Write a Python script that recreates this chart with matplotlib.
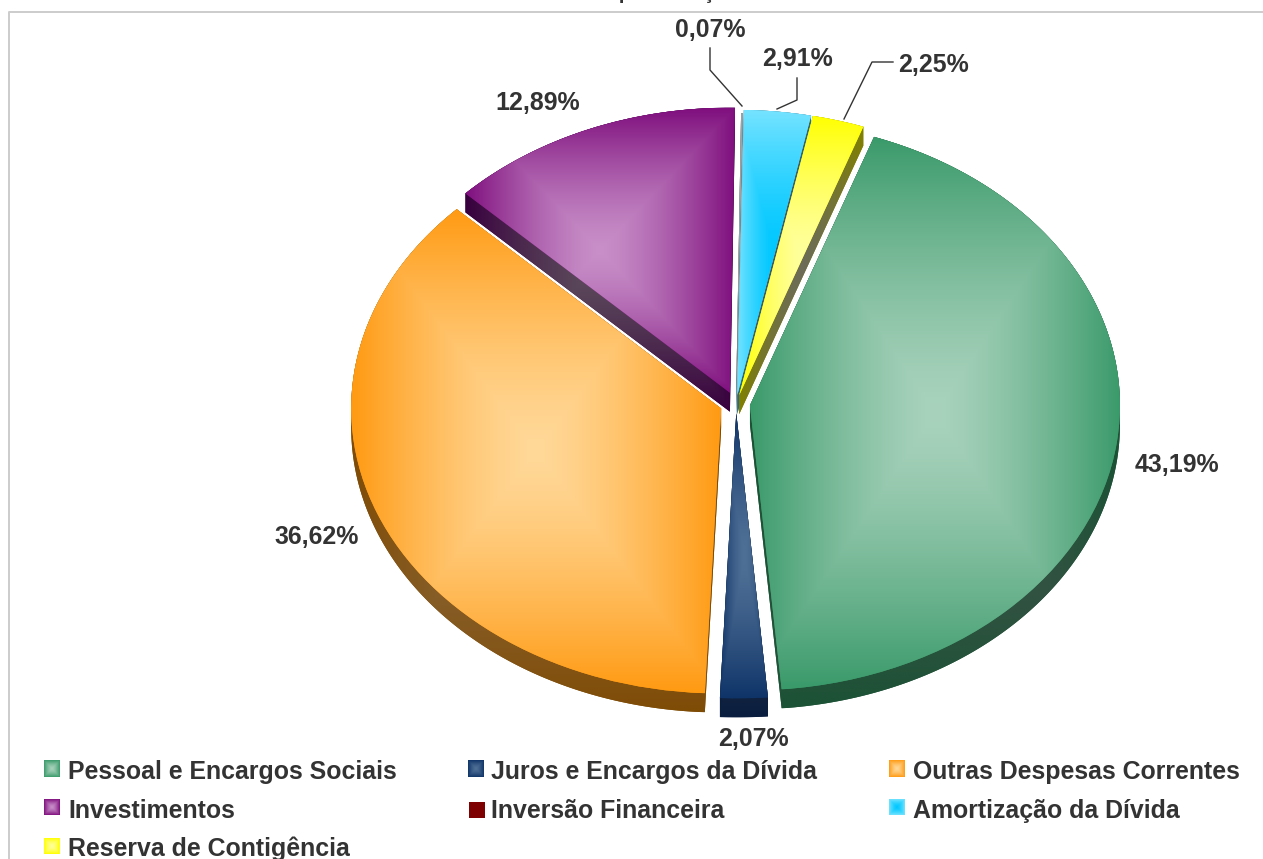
import numpy as np
import matplotlib
matplotlib.use('Agg')
import matplotlib.pyplot as plt
from matplotlib.colors import to_rgb
from matplotlib.patches import Polygon

plt.rcParams['font.family'] = ['Liberation Sans', 'DejaVu Sans']

categories = ['Pessoal e Encargos Sociais', 'Juros e Encargos da Dívida', 'Outras Despesas Correntes',
              'Investimentos', 'Inversão Financeira', 'Amortização da Dívida', 'Reserva de Contigência']
values = [43.19, 2.07, 36.62, 12.89, 0.07, 2.91, 2.25]

# cores: borda e centro do degrade de cada fatia
edge_colors = ['#3A9A6A', '#0F3468', '#FF9A12', '#7F0F7E', '#9AA4A8', '#75E3FF', '#FFFF00']
center_colors = ['#A8D2BC', '#4F7096', '#FFD898', '#C88FC8', '#9AA4A8', '#00C8FF', '#FFFF9C']
side_edge = ['#1C5236', '#0A1E40', '#7F4C06', '#38003E', '#5A6468', '#2A6A80', '#808000']
side_center = ['#46524C', '#2C3438', '#8C6A40', '#5C4C5C', '#5A6468', '#3C5A66', '#6C6C58']
legend_edge = ['#3A9A6A', '#0F3468', '#FF9A12', '#7F0F7E', '#7F0000', '#75E3FF', '#FFFF00']
legend_center = ['#A8D2BC', '#4F7096', '#FFD898', '#C88FC8', '#7F0000', '#00C8FF', '#FFFF9C']

W, H = 1263, 859
# centro e raios da elipse em pixels
cx, cy, rx, ry = 736, 404, 370, 285
depth = 19 / ry
explode = [0.038, 0.033, 0.043, 0.043, 0.02, 0.032, 0.032]
draw_order = [3, 4, 5, 6, 0, 2, 1]


def px(x, y):
    return (x - cx) / rx, (cy - y) / ry


def gradient(ax, box, edge, center, zorder, clip=None):
    # degrade retangular: claro no centro do retangulo, cor cheia nas bordas
    u, v = np.meshgrid(np.linspace(-1, 1, 240), np.linspace(-1, 1, 240))
    t = np.maximum(np.abs(u), np.abs(v))[..., None] ** 1.4
    img = np.array(to_rgb(center)) * (1 - t) + np.array(to_rgb(edge)) * t
    im = ax.imshow(img, extent=box, origin='lower', aspect='auto', interpolation='bilinear', zorder=zorder)
    if clip is not None:
        im.set_clip_path(clip)
    return im


def convex_hull(points):
    pts = sorted(map(tuple, points))
    def half(seq):
        out = []
        for p in seq:
            while len(out) > 1 and ((out[-1][0] - out[-2][0]) * (p[1] - out[-2][1])
                                    - (out[-1][1] - out[-2][1]) * (p[0] - out[-2][0])) <= 0:
                out.pop()
            out.append(p)
        return out[:-1]
    return half(pts) + half(pts[::-1])


fig = plt.figure(figsize=(W / 100, H / 100), dpi=100)
ax = fig.add_axes([0, 0, 1, 1])
wedges, _ = ax.pie(values, explode=explode, startangle=70.4, counterclock=False, radius=1)

for n, i in enumerate(draw_order):
    w = wedges[i]
    z = 2 + n * 4
    ang = np.radians(np.linspace(w.theta1, w.theta2, 160))
    ox, oy = w.center
    pts = np.column_stack([ox + w.r * np.cos(ang), oy + w.r * np.sin(ang)])
    pts = np.vstack([pts, [ox, oy]])
    low = pts - [0, depth]

    # lateral da fatia
    hull = np.array(convex_hull(np.vstack([pts, low])))
    side = Polygon(hull, closed=True, fc=side_edge[i], ec='none', zorder=z)
    ax.add_patch(side)
    gradient(ax, (hull[:, 0].min(), hull[:, 0].max(), hull[:, 1].min(), hull[:, 1].max()),
             side_edge[i], side_center[i], z + 1, clip=side)

    # topo da fatia
    w.set(facecolor=edge_colors[i], edgecolor='none', zorder=z + 2)
    gradient(ax, (pts[:, 0].min(), pts[:, 0].max(), pts[:, 1].min(), pts[:, 1].max()),
             edge_colors[i], center_colors[i], z + 3, clip=w)

ax.set_aspect('auto')
ax.set_axis_off()

text_color = '#333333'
label_size = 17.9
legend_size = 17.9

# moldura do grafico
ax.plot(*zip(px(9, H), px(9, 12), px(W, 12)), color='#CCCCCC', lw=1.4, zorder=1, clip_on=False)

# titulo cortado pela borda superior
tx, ty = px(666, -1)
ax.text(tx, ty, 'Representação', fontsize=14.6, fontweight='bold', color=text_color,
        ha='center', va='baseline', clip_on=True, zorder=60)

# rotulos de valor
label_pos = [(1177, 465), (753, 739), (317, 537), (538, 103), (710, 30), (797, 59), (933, 65)]
for v, (x, y) in zip(values, label_pos):
    tx, ty = px(x, y)
    ax.text(tx, ty, f'{v:.2f}%'.replace('.', ','), fontsize=label_size, fontweight='bold',
            color=text_color, ha='center', va='center', zorder=60)

# linhas de chamada
leaders = [[(710, 48), (710, 70), (742, 106)],
           [(797, 78), (797, 100), (777, 109)],
           [(893, 62), (872, 62), (844, 119)]]
for line in leaders:
    ax.plot(*zip(*[px(*p) for p in line]), color='#333333', lw=1, zorder=60)

# legenda
marker_pos = [(44, 761), (468, 761), (889, 761), (44, 799), (469, 802), (889, 799), (44, 838)]
text_pos = [(68, 772), (491, 772), (913, 772), (68, 811), (491, 811), (913, 811), (68, 849)]
for i in range(len(categories)):
    x, y = marker_pos[i]
    x0, y1 = px(x, y)
    x1, y0 = px(x + 16, y + 16)
    gradient(ax, (x0, x1, y0, y1), legend_edge[i], legend_center[i], 60)
    tx, ty = px(*text_pos[i])
    ax.text(tx, ty, categories[i], fontsize=legend_size, fontweight='bold', color=text_color,
            ha='left', va='center', zorder=60)

ax.set_xlim(px(0, 0)[0], px(W, 0)[0])
ax.set_ylim(px(0, H)[1], px(0, 0)[1])
fig.savefig('out.png', dpi=100)
